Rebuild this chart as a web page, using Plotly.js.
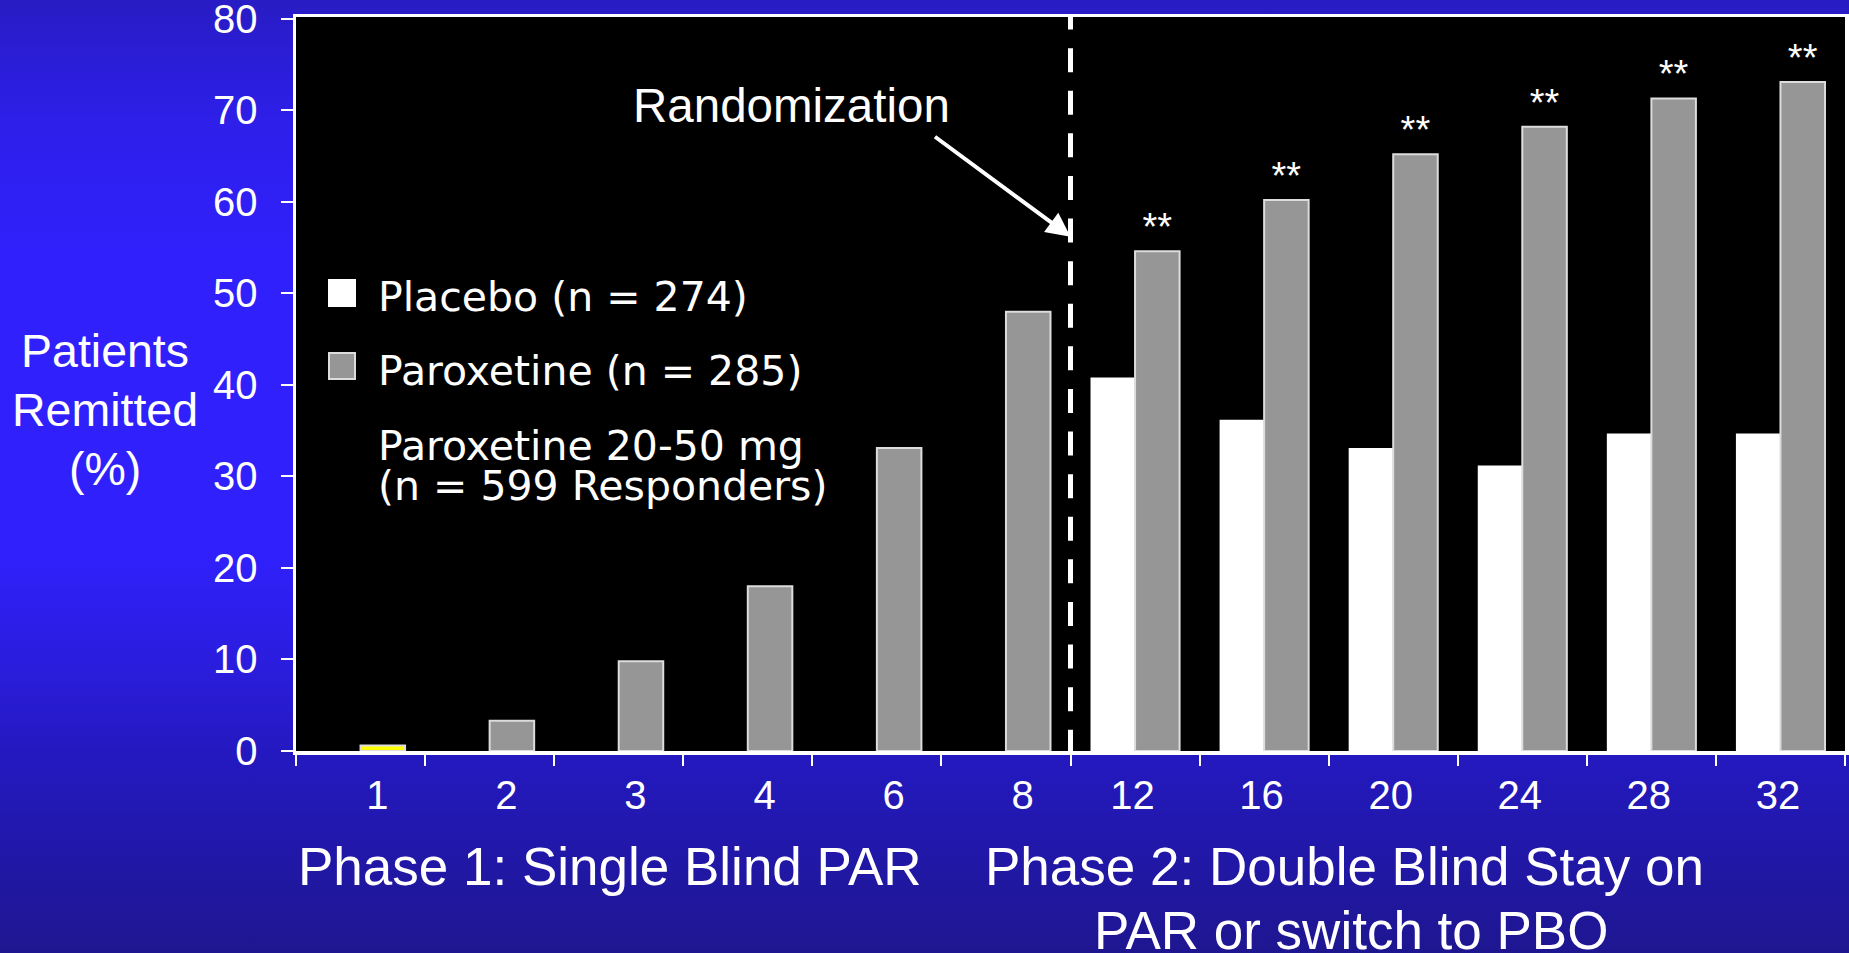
<!DOCTYPE html>
<html>
<head>
<meta charset="utf-8">
<script src="https://cdn.plot.ly/plotly-3.0.1.min.js"></script>
<style>
  html, body {
    margin: 0; padding: 0; width: 1849px; height: 953px; overflow: hidden;
    background: linear-gradient(to bottom,
      #281cc4 0%, #2e1fea 13%, #3020fc 27%, #3020fc 58%,
      #2b1ddc 70%, #2419c0 79%, #1e1690 100%);
  }
  #chart { width: 1849px; height: 953px; }
</style>
</head>
<body>
<div id="chart"></div>
<script>
// Remission by study week, in percent of patients
const weeks = ['1', '2', '3', '4', '6', '8', '12', '16', '20', '24', '28', '32'];
const paroxetine = [0.6, 3.3, 9.8, 18.0, 33.1, 48.0, 54.6, 60.2, 65.2, 68.2, 71.3, 73.1];
const placebo = [null, null, null, null, null, null, 40.8, 36.2, 33.1, 31.2, 34.7, 34.7];
const significance = ['', '', '', '', '', '', '**', '**', '**', '**', '**', '**'];
const phaseOneWeeks = 6;   // weeks 1-8 are open-label, randomization follows week 8

const seriesNames = ['Placebo (n = 274)', 'Paroxetine (n = 285)'];
const phaseNote = ['Paroxetine 20-50 mg', '(n = 599 Responders)'];
const yTitleLines = ['Patients', 'Remitted', '(%)'];
const phaseTitles = ['Phase 1: Single Blind PAR', 'Phase 2: Double Blind Stay on', 'PAR or switch to PBO'];
const markerText = 'Randomization';

// Styling
const WHITE = '#ffffff';
const GREY = '#969696';
const FIRST_WEEK = '#ffff00';
const ARIAL = 'Liberation Sans, Arial, Helvetica, sans-serif';
const WIDE = 'DejaVu Sans, Verdana, sans-serif';

// Plot area in page pixels
const W = 1849, H = 953;
const L = 296, R = 1845, T = 17, B = 751;
const px = x => (x - L) / (R - L);
const py = y => (B - y) / (B - T);

// one slot per visit along the x axis
const slot = weeks.map((w, i) => i);
const parColors = paroxetine.map((v, i) => i === 0 ? FIRST_WEEK : GREY);
// week labels sit a little right of centre under the single bars of phase 1
const labelPos = slot.map(i => i + (i < phaseOneWeeks ? 0.13 : -0.02));

const traces = [
  {
    type: 'bar', name: seriesNames[0], x: slot, y: placebo,
    marker: { color: WHITE, line: { color: WHITE, width: 0 } },
    hoverinfo: 'skip'
  },
  {
    type: 'bar', name: seriesNames[1], x: slot, y: paroxetine,
    marker: { color: parColors, line: { color: '#dcdcdc', width: 2 } },
    text: significance, textposition: 'outside', cliponaxis: false,
    constraintext: 'none',
    textfont: { family: ARIAL, size: 38, color: WHITE },
    hoverinfo: 'skip'
  }
];

function note(text, x, y, size, family, anchor) {
  return {
    xref: 'paper', yref: 'paper', x: px(x), y: py(y),
    xanchor: anchor || 'center', yanchor: 'middle',
    text: text, showarrow: false,
    font: { family: family || ARIAL, size: size, color: WHITE }
  };
}

const annotations = [
  note(yTitleLines[0], 105, 351, 46.5),
  note(yTitleLines[1], 105, 409.7, 46.5),
  note(yTitleLines[2], 105, 468.5, 46.5),
  note(phaseTitles[0], 610, 866, 53),
  note(phaseTitles[1], 1344.5, 866.5, 53),
  note(phaseTitles[2], 1351, 930.5, 53),
  note(markerText, 791, 105.5, 47.5),
  note(seriesNames[0], 376, 297.4, 41, WIDE, 'left'),
  note(seriesNames[1], 376, 371, 41, WIDE, 'left'),
  note(phaseNote[0], 376, 446, 41, WIDE, 'left'),
  note(phaseNote[1], 376, 486, 41, WIDE, 'left'),
  {
    // arrow pointing at the randomization boundary
    xref: 'x', yref: 'y', x: phaseOneWeeks - 0.5, y: 56.2,
    axref: 'pixel', ayref: 'pixel', ax: -137, ay: -101,
    text: '', showarrow: true, arrowhead: 2, arrowsize: 1.2,
    arrowwidth: 4, arrowcolor: WHITE, standoff: 0
  }
];

const shapes = [
  {
    // randomization boundary
    type: 'line', xref: 'x', yref: 'y',
    x0: phaseOneWeeks - 0.5, x1: phaseOneWeeks - 0.5, y0: -0.3, y1: 80.2,
    line: { color: WHITE, width: 5, dash: '24px,18.6px' }, layer: 'above'
  },
  {
    // legend swatches
    type: 'rect', xref: 'paper', yref: 'paper',
    x0: px(328), x1: px(356), y0: py(307), y1: py(279),
    fillcolor: WHITE, line: { color: WHITE, width: 0 }
  },
  {
    type: 'rect', xref: 'paper', yref: 'paper',
    x0: px(329), x1: px(355), y0: py(379), y1: py(353),
    fillcolor: GREY, line: { color: '#dcdcdc', width: 2 }
  }
];

const layout = {
  width: W, height: H,
  margin: { l: L, r: W - R, t: T, b: H - B, pad: 0 },
  paper_bgcolor: 'rgba(0,0,0,0)',
  plot_bgcolor: '#000000',
  showlegend: false,
  barmode: 'group', bargap: 0.31, bargroupgap: 0,
  font: { family: ARIAL, color: WHITE },
  xaxis: {
    type: 'linear', range: [-0.5, weeks.length - 0.5], automargin: false,
    tickmode: 'array', tickvals: labelPos, ticktext: weeks,
    ticks: '', tickfont: { family: ARIAL, size: 40, color: WHITE },
    ticklabelstandoff: 6, ticklabeloverflow: 'allow',
    minor: { tick0: -0.5, dtick: 1, ticks: 'outside', ticklen: 11, tickwidth: 2,
             tickcolor: WHITE, showgrid: false },
    showgrid: false, zeroline: false,
    showline: true, linecolor: WHITE, linewidth: 3.5, mirror: true, fixedrange: true
  },
  yaxis: {
    range: [0, 80.2], dtick: 10, automargin: false,
    ticks: 'outside', ticklen: 12, tickwidth: 2, tickcolor: WHITE,
    tickfont: { family: ARIAL, size: 40, color: WHITE },
    ticklabelstandoff: 15, ticklabeloverflow: 'allow',
    showgrid: false, zeroline: false,
    showline: true, linecolor: WHITE, linewidth: 3.5, mirror: true, fixedrange: true
  },
  annotations: annotations,
  shapes: shapes
};

Plotly.newPlot('chart', traces, layout, { staticPlot: true, displayModeBar: false });
</script>
</body>
</html>
